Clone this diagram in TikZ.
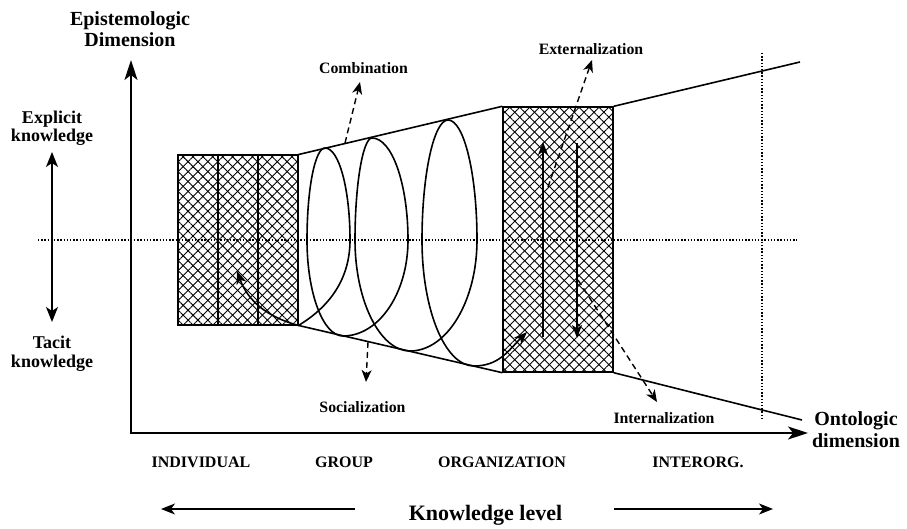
\documentclass[tikz,border=0pt]{standalone}
\usepackage{fontspec}
\setmainfont{Liberation Serif}
\usetikzlibrary{arrows.meta,patterns.meta}

\begin{document}
\begin{tikzpicture}
[x=1pt,y=1pt,
  lineDecorate/.style={line width=1.6pt},
  axisDecorate/.style={line width=1.4pt,{Stealth[length=20pt,width=13pt,inset=5pt]}-{Stealth[length=20pt,width=13pt,inset=5pt]}},
  arrowDecorate/.style={line width=1.4pt,-{Stealth[length=13pt,width=10pt,inset=3.5pt]}},
  dashDecorate/.style={line width=1.4pt,dash pattern=on 6pt off 4pt,-{Stealth[length=12pt,width=10pt,inset=3.5pt]}},
  dotDecorate/.style={line width=1.6pt,dash pattern=on 1.4pt off 1.8pt},
  boxDecorate/.style={shape=rectangle,draw,line width=1.4pt,inner sep=0pt,
    preaction={pattern={Lines[angle=45,distance=7pt,line width=.9pt]}},
    pattern={Lines[angle=-45,distance=7pt,line width=.9pt]}},
  axisLabel/.style={font=\bfseries\fontsize{20}{21}\selectfont,align=center,anchor=base,inner sep=0pt},
  sideLabel/.style={font=\bfseries\fontsize{18}{18.5}\selectfont,align=center,anchor=base,inner sep=0pt},
  modeLabel/.style={font=\bfseries\fontsize{15.8}{16}\selectfont,anchor=base,inner sep=0pt},
  levelLabel/.style={font=\bfseries\fontsize{16}{16}\selectfont,anchor=base,inner sep=0pt}]
\useasboundingbox (0,0) rectangle (907,528);

%% guide lines
\draw[dotDecorate] (38,288) -- (797,288);
\draw[dotDecorate] (762,475) -- (762,110);

%% axes
\coordinate (origin) at (131,95);
\coordinate (epiTip) at (131,468);
\coordinate (ontoTip) at (808,95);
\draw[axisDecorate] (epiTip) -- (origin) -- (ontoTip);
\node (epiLabel) at (130,481) [axisLabel] {Epistemologic\\Dimension};
\node (ontoLabel) at (856,81) [axisLabel,font=\bfseries\fontsize{20}{22}\selectfont] {Ontologic\\dimension};

%% explicit / tacit
\node (explicitLabel) at (52,386) [sideLabel] {Explicit\\knowledge};
\node (tacitLabel) at (52,161) [sideLabel] {Tacit\\knowledge};
\coordinate (explicitTip) at (52,376);
\coordinate (tacitTip) at (52,206);
\draw[line width=1.4pt,{Stealth[length=15pt,width=12pt,inset=4pt]}-{Stealth[length=15pt,width=12pt,inset=4pt]}] (explicitTip) -- (tacitTip);

%% boxes
\node (indivBox) at (238,288) [boxDecorate,minimum width=120pt,minimum height=170pt] {};
\node (orgBox) at (558,288.5) [boxDecorate,minimum width=110pt,minimum height=265pt] {};
\foreach \x in {218,258}
{
  \draw[line width=1.4pt] (\x,203) -- (\x,373);
}

%% cone
\coordinate (coneTopEnd) at (800,466);
\coordinate (coneBottomEnd) at (802,108);
\draw[lineDecorate] (indivBox.north east) -- (orgBox.north west);
\draw[lineDecorate] (indivBox.south east) -- (orgBox.south west);
\draw[lineDecorate] (orgBox.north east) -- (coneTopEnd);
\draw[lineDecorate] (orgBox.south east) -- (coneBottomEnd);

%% spiral
\foreach \name/\x/\y in {R1/350/288, T1/325/380, L1/307/288, B1/343/192,
  R2/408/288, T2/372/390, L2/355/288, B2/410/177,
  R3/477/288, T3/448/408, L3/422/288, B3/474/162,
  leftTip/237/257, rightTip/527/196}
{
  \coordinate (\name) at (\x,\y);
}
\draw[lineDecorate,{Stealth[length=13pt,width=10pt,inset=3.5pt]}-{Stealth[length=13pt,width=10pt,inset=3.5pt]}]
  (leftTip) to[out=-70,in=165] (indivBox.south east)
  .. controls +(30,18) and +(0,-40) .. (R1)
  .. controls +(0,51) and +(14,0) .. (T1)
  .. controls +(-10,0) and +(0,51) .. (L1)
  .. controls +(0,-53) and +(-20,0) .. (B1)
  .. controls +(36,0) and +(0,-53) .. (R2)
  .. controls +(0,56) and +(20,0) .. (T2)
  .. controls +(-9,0) and +(0,56) .. (L2)
  .. controls +(0,-61) and +(-30,0) .. (B2)
  .. controls +(37,0) and +(0,-61) .. (R3)
  .. controls +(0,66) and +(16,0) .. (T3)
  .. controls +(-14,0) and +(0,66) .. (L3)
  .. controls +(0,-70) and +(-29,0) .. (B3)
  .. controls +(25,0) and +(-18,-18) .. (rightTip);

%% arrows inside the organization box
\coordinate (upFoot) at (543,191);
\coordinate (upTip) at (543,386);
\coordinate (downFoot) at (577,385);
\coordinate (downTip) at (577,190);
\draw[arrowDecorate] (upFoot) -- (upTip);
\draw[arrowDecorate] (downFoot) -- (downTip);

%% conversion modes
\node (combLabel) at (363.5,454) [modeLabel] {Combination};
\node (socLabel) at (362.5,116) [modeLabel] {Socialization};
\node (extLabel) at (591,473) [modeLabel] {Externalization};
\node (intLabel) at (664,105) [modeLabel] {Internalization};
\foreach \startpoint/\sx/\sy/\endpoint/\ex/\ey in {combFoot/345/385/combTip/360/446,
  socFoot/368/186/socTip/366/146, extFoot/548/341/extTip/592/468,
  intFoot/578/248/intTip/657/126}
{
  \coordinate (\startpoint) at (\sx,\sy);
  \coordinate (\endpoint) at (\ex,\ey);
  \draw[dashDecorate] (\startpoint) -- (\endpoint);
}

%% knowledge levels
\foreach \nodename/\x/\txt in {indivLabel/201/INDIVIDUAL, groupLabel/344/GROUP,
  orgLabel/502/ORGANIZATION, interLabel/698/INTERORG.}
{
  \node (\nodename) at (\x,61) [levelLabel] {\txt};
}
\node (levelTitle) at (485.5,8) [anchor=base,inner sep=0pt,font=\bfseries\fontsize{22}{22}\selectfont] {Knowledge level};
\coordinate (levelLeftTail) at (355,19);
\coordinate (levelLeftTip) at (161,19);
\coordinate (levelRightTail) at (614,19);
\coordinate (levelRightTip) at (773,19);
\draw[line width=1.4pt,-{Stealth[length=14pt,width=11pt,inset=4pt]}] (levelLeftTail) -- (levelLeftTip);
\draw[line width=1.4pt,-{Stealth[length=14pt,width=11pt,inset=4pt]}] (levelRightTail) -- (levelRightTip);
\end{tikzpicture}
\end{document}
